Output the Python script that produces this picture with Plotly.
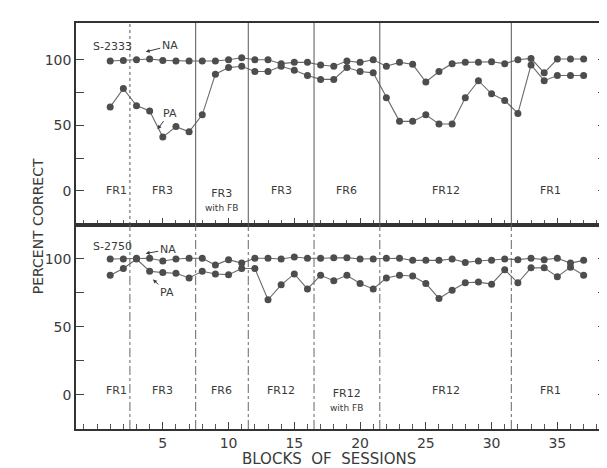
import plotly.graph_objects as go
from plotly.subplots import make_subplots

blocks = list(range(1, 38))

# S-2333 (top panel)
s2333_na = [99, 99.5, 100, 100.5, 99.5, 99, 99, 99, 99, 100, 101.5, 100, 100, 97, 98, 98, 96, 95,
            99, 98, 100, 95, 98, 96.5, 83, 91, 97, 98, 98, 98.5, 97, 100, 101, 90, 100.5, 100.5, 100.5]
s2333_pa = [64, 78, 65, 61, 41, 49, 45, 58, 89, 94, 95, 91, 91, 95, 92, 88, 85, 85,
            94, 91, 90, 71, 53, 53, 58, 51, 51, 71, 84, 74, 69, 59, 96, 84, 88, 88, 88]

# S-2750 (bottom panel)
s2750_na = [100, 100, 100.5, 100.5, 98.5, 100, 100.5, 100.5, 95.5, 99.5, 97, 100.5, 100.5, 100, 101.5,
            100.5, 100.5, 101, 101, 100, 100, 100.5, 100.5, 99, 99, 99, 100, 97.5, 98.5, 99, 100,
            99.5, 100.5, 99.5, 100.5, 97, 99]
s2750_pa = [88, 93, 100, 91, 90, 89.5, 86, 91, 89, 88.5, 93, 93, 70, 81, 89, 78, 88, 84,
            88, 82, 78, 86, 88, 87.5, 82, 71, 77, 82.5, 83, 81.5, 92, 82.5, 93.5, 93.5, 87, 94, 88]

phase_bounds = [2.5, 7.5, 11.5, 16.5, 21.5, 31.5]
s2333_phases = ["FR1", "FR3", "FR3<br><span style='font-size:9px'>with FB</span>", "FR3", "FR6", "FR12", "FR1"]
s2750_phases = ["FR1", "FR3", "FR6", "FR12", "FR12<br><span style='font-size:9px'>with FB</span>", "FR12", "FR1"]

y_tickvals = [0, 25, 50, 75, 100]
y_ticktext = ["0", "", "50", "", "100"]
x_tickvals = [5, 10, 15, 20, 25, 30, 35]

INK = "#3a3a3a"
LINE = "#6a6a6a"
FONT = "DejaVu Sans"

fig = make_subplots(rows=2, cols=1, shared_xaxes=True, vertical_spacing=0)

def add_series(row, na, pa):
    for vals in (pa, na):
        fig.add_trace(go.Scatter(
            x=blocks, y=vals, mode="lines+markers",
            line=dict(color=LINE, width=1.1),
            marker=dict(color="#4d4d4d", size=7, line=dict(width=0)),
            showlegend=False, hoverinfo="skip"), row=row, col=1)

add_series(1, s2333_na, s2333_pa)
add_series(2, s2750_na, s2750_pa)

# phase dividers
for b in phase_bounds:
    fig.add_shape(type="line", xref="x", yref="y domain", x0=b, x1=b, y0=0, y1=1,
                  line=dict(color="#555", width=1, dash="dot" if b == 2.5 else "solid"))
    fig.add_shape(type="line", xref="x2", yref="y2 domain", x0=b, x1=b, y0=0, y1=1,
                  line=dict(color="#666", width=1, dash="dashdot"))

edges = [0.5] + phase_bounds + [37.5]
centers = [(edges[i] + edges[i + 1]) / 2 for i in range(len(edges) - 1)]
for c, t in zip(centers, s2333_phases):
    fig.add_annotation(x=c, y=0, xref="x", yref="y", text=t, showarrow=False,
                       yanchor="top" if "with" in t else "middle", yshift=6 if "with" in t else 0,
                       font=dict(family=FONT, size=11, color=INK))
for c, t in zip(centers, s2750_phases):
    fig.add_annotation(x=c, y=3, xref="x2", yref="y2", text=t, showarrow=False,
                       yanchor="top" if "with" in t else "middle", yshift=6 if "with" in t else 0,
                       font=dict(family=FONT, size=11, color=INK))

# subject labels
fig.add_annotation(x=0.028, y=0.925, xref="x domain", yref="y domain", text="S-2333",
                   showarrow=False, xanchor="left", font=dict(family=FONT, size=11, color=INK))
fig.add_annotation(x=0.028, y=0.935, xref="x2 domain", yref="y2 domain", text="S-2750",
                   showarrow=False, xanchor="left", font=dict(family=FONT, size=11, color=INK))

arrow_kw = dict(showarrow=True, arrowhead=2, arrowsize=0.8, arrowwidth=1, arrowcolor=INK,
                font=dict(family=FONT, size=11, color=INK))
fig.add_annotation(x=3.7, y=106, xref="x", yref="y", text="NA", ax=24, ay=-6, **arrow_kw)
fig.add_annotation(x=4.6, y=47, xref="x", yref="y", text="PA", ax=12, ay=-16, **arrow_kw)
fig.add_annotation(x=3.7, y=104, xref="x2", yref="y2", text="NA", ax=22, ay=-4, **arrow_kw)
fig.add_annotation(x=4.25, y=85, xref="x2", yref="y2", text="PA", ax=14, ay=13, **arrow_kw)

# axis titles
fig.add_annotation(x=-0.09, y=0.5, xref="paper", yref="paper", text="PERCENT CORRECT",
                   textangle=-90, showarrow=False, font=dict(family=FONT, size=14, color=INK))
fig.add_annotation(x=0.477, y=-0.1, xref="paper", yref="paper", text="BLOCKS  OF  SESSIONS",
                   showarrow=False, font=dict(family=FONT, size=15, color=INK))

xcommon = dict(range=[-1.6, 38.7], showline=True, linecolor="#333", linewidth=1.5, mirror=True,
               ticks="inside", ticklen=7, tickcolor="#444", tickvals=x_tickvals,
               minor=dict(dtick=1, tick0=0, ticks="inside", ticklen=5, tickcolor="#555"),
               showgrid=False, zeroline=False,
               tickfont=dict(family=FONT, size=14, color=INK))
fig.update_xaxes(**xcommon)
fig.update_xaxes(showticklabels=False, row=1, col=1)
fig.update_xaxes(showticklabels=True, row=2, col=1)

ycommon = dict(showline=True, linecolor="#333", linewidth=1.5, mirror="ticks",
               ticks="inside", ticklen=8, tickcolor="#444", tickvals=y_tickvals, ticktext=y_ticktext,
               showgrid=False, zeroline=False, tickfont=dict(family=FONT, size=14, color=INK))
fig.update_yaxes(**ycommon)
fig.update_yaxes(range=[-26, 128], domain=[0.5025, 1.0], row=1, col=1)
fig.update_yaxes(range=[-25, 125], domain=[0.0, 0.5025], row=2, col=1)

fig.update_layout(width=607, height=468, margin=dict(l=68, r=7, t=15, b=47),
                  paper_bgcolor="white", plot_bgcolor="white", showlegend=False)

fig.write_html("out.html")
